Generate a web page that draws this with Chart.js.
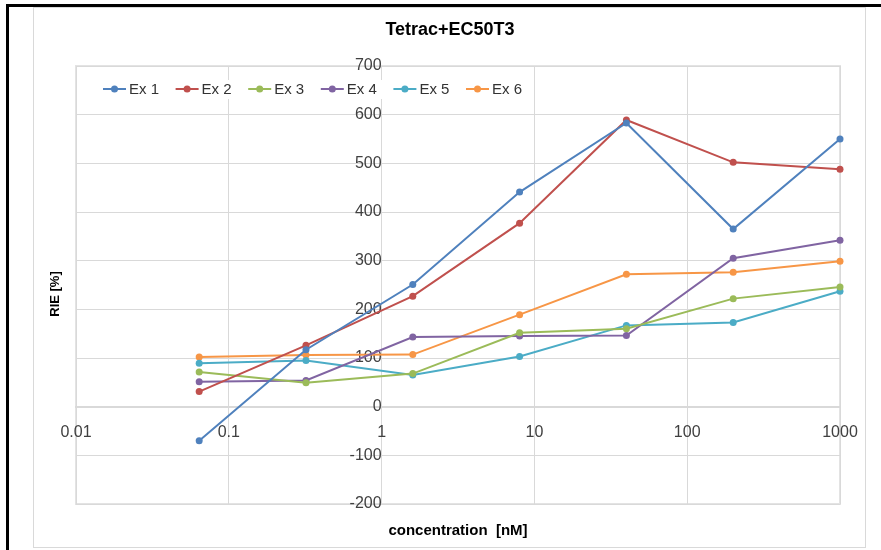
<!DOCTYPE html>
<html>
<head>
<meta charset="utf-8">
<script src="https://cdn.jsdelivr.net/npm/chart.js@4"></script>
<style>
  html, body { margin: 0; padding: 0; background: #fff; }
  #wrap { width: 881px; height: 550px; }
</style>
</head>
<body>
<div id="wrap"><canvas id="chart" width="881" height="550"></canvas></div>
<script>
// concentrations in nM (5-fold dilution)
const concentrations = [0.064, 0.32, 1.6, 8, 40, 200, 1000];
const xTicks = [0.01, 0.1, 1, 10, 100, 1000];

const seriesNames = ['Ex 1', 'Ex 2', 'Ex 3', 'Ex 4', 'Ex 5', 'Ex 6'];
const ex1 = [-70, 117, 251, 441, 583, 365, 550];
const ex2 = [31, 126, 227, 377, 589, 502, 488];
const ex3 = [71, 49, 68, 152, 160, 222, 246];
const ex4 = [51, 54, 143, 145, 146, 305, 342];
const ex5 = [89, 95, 65, 103, 167, 173, 237];
const ex6 = [102, 106, 107, 189, 272, 276, 299];
const colors = ['#4F81BD', '#C0504D', '#9BBB59', '#8064A2', '#4BACC6', '#F79646'];

const FONT = '"Liberation Sans", Arial, sans-serif';

const datasets = [ex1, ex2, ex3, ex4, ex5, ex6].map((vals, i) => ({
    label: seriesNames[i],
    data: concentrations.map((c, j) => ({ x: c, y: vals[j] })),
    borderColor: colors[i],
    backgroundColor: colors[i],
    pointBackgroundColor: colors[i],
    pointBorderColor: colors[i],
    pointRadius: 3.5,
    pointBorderWidth: 0,
    borderWidth: 2,
    tension: 0,
    fill: false,
    clip: false
}));

// frame, titles and the Excel-like legend
const decorations = {
    id: 'decorations',
    beforeDraw(chart) {
        const ctx = chart.ctx;
        const a = chart.chartArea;
        ctx.save();
        ctx.fillStyle = '#fff';
        ctx.fillRect(0, 0, chart.width, chart.height);
        ctx.fillStyle = '#000';
        ctx.fillRect(6, 4, chart.width - 6, 3);
        ctx.fillRect(6, 4, 3, chart.height - 4);
        ctx.strokeStyle = '#d9d9d9';
        ctx.lineWidth = 1;
        ctx.strokeRect(33.5, 7.5, 832, 540);
        // plot area frame, under the tick labels
        ctx.strokeStyle = '#e3e3e3';
        ctx.lineWidth = 2;
        ctx.strokeRect(a.left, a.top, a.right - a.left, a.bottom - a.top);
        ctx.restore();
    },
    afterDraw(chart) {
        const ctx = chart.ctx;
        const a = chart.chartArea;
        ctx.save();
        ctx.fillStyle = '#000';
        ctx.textAlign = 'center';
        ctx.textBaseline = 'middle';
        ctx.font = 'bold 18px ' + FONT;
        ctx.fillText('Tetrac+EC50T3', 450, 30);

        ctx.font = 'bold 15px ' + FONT;
        ctx.fillText('concentration  [nM]', (a.left + a.right) / 2, 531);

        ctx.save();
        ctx.translate(55, 294);
        ctx.rotate(-Math.PI / 2);
        ctx.font = 'bold 13px ' + FONT;
        ctx.fillText('RIE [%]', 0, 0);
        ctx.restore();

        // legend
        ctx.fillStyle = '#fff';
        ctx.fillRect(96, 80, 438, 19);
        ctx.font = '15px ' + FONT;
        ctx.textAlign = 'left';
        chart.data.datasets.forEach((ds, i) => {
            const x0 = 103 + i * 72.6;
            const y = 89;
            ctx.strokeStyle = ds.borderColor;
            ctx.lineWidth = 2;
            ctx.beginPath();
            ctx.moveTo(x0, y);
            ctx.lineTo(x0 + 23, y);
            ctx.stroke();
            ctx.fillStyle = ds.borderColor;
            ctx.beginPath();
            ctx.arc(x0 + 11.5, y, 3.5, 0, Math.PI * 2);
            ctx.fill();
            ctx.fillStyle = '#333';
            ctx.fillText(ds.label, x0 + 26, y + 1);
        });
        ctx.restore();
    }
};

new Chart(document.getElementById('chart').getContext('2d'), {
    type: 'line',
    data: { datasets },
    options: {
        responsive: false,
        animation: false,
        layout: { padding: { left: 76, top: 66, right: 41, bottom: 46 } },
        plugins: {
            legend: { display: false },
            title: { display: false },
            tooltip: { enabled: false }
        },
        scales: {
            x: {
                type: 'logarithmic',
                min: 0.01,
                max: 1000,
                position: { y: 0 },
                afterBuildTicks: scale => { scale.ticks = xTicks.map(v => ({ value: v })); },
                grid: { color: '#d9d9d9', lineWidth: 1, drawTicks: false },
                border: { display: true, color: '#d9d9d9', width: 2 },
                ticks: {
                    autoSkip: false,
                    maxRotation: 0,
                    padding: 16,
                    color: '#404040',
                    font: { family: FONT, size: 16 },
                    callback: v => String(v)
                }
            },
            y: {
                type: 'linear',
                min: -200,
                max: 700,
                position: { x: 1 },
                grid: { color: '#d9d9d9', lineWidth: 1, drawTicks: false },
                border: { display: false },
                ticks: {
                    stepSize: 100,
                    padding: 16,
                    color: '#404040',
                    font: { family: FONT, size: 16 }
                }
            }
        }
    },
    plugins: [decorations]
});
</script>
</body>
</html>
